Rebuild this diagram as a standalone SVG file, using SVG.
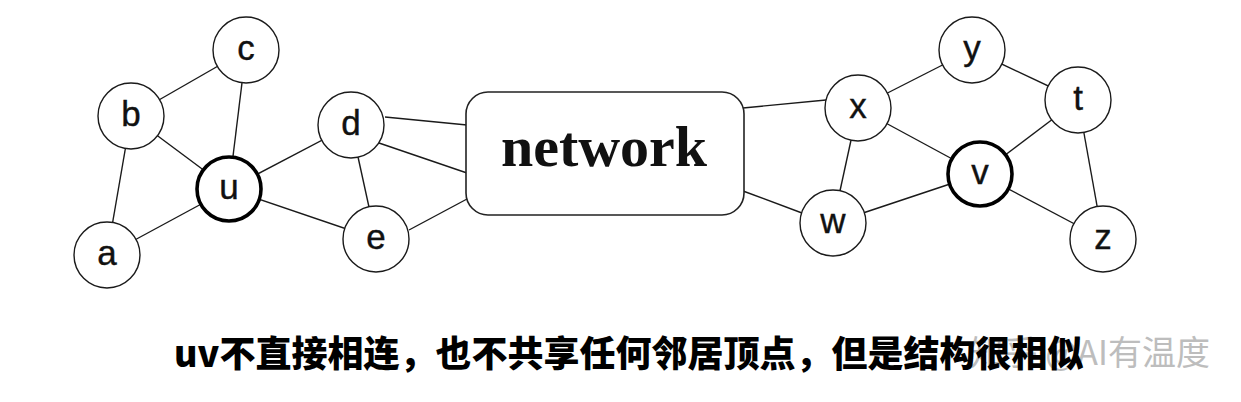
<svg xmlns="http://www.w3.org/2000/svg" width="1241" height="402" viewBox="0 0 1241 402">
<style>
.edge{stroke:#1a1a1a;stroke-width:1.4;fill:none}
.node circle{fill:#fff;stroke:#1a1a1a;stroke-width:1.4}
.node.hl circle{stroke:#000;stroke-width:3.6}
.lbl{font-family:"Liberation Sans",Arial,sans-serif;font-size:35px;fill:#111;text-anchor:middle;stroke:#111;stroke-width:0.4}
.net rect{fill:#fff;stroke:#222;stroke-width:1.6}
.net text{font-family:"Liberation Serif","Times New Roman",serif;font-size:58px;font-weight:bold;fill:#111;text-anchor:middle}
.cap{font-family:"Noto Sans CJK SC","Liberation Sans",sans-serif;font-size:36px;font-weight:900;fill:#000}
.wm{font-family:"Noto Sans CJK SC","Liberation Sans",sans-serif;font-size:34px;fill:#bdbdbd;text-anchor:end}
</style>
<rect width="1241" height="402" fill="#fff"/>
<g id="connectors">
<line class="edge" x1="131" y1="116" x2="246" y2="50"/>
<line class="edge" x1="131" y1="116" x2="229" y2="189"/>
<line class="edge" x1="131" y1="116" x2="107" y2="255"/>
<line class="edge" x1="246" y1="50" x2="229" y2="189"/>
<line class="edge" x1="107" y1="255" x2="229" y2="189"/>
<line class="edge" x1="229" y1="189" x2="351" y2="125"/>
<line class="edge" x1="229" y1="189" x2="376" y2="239"/>
<line class="edge" x1="351" y1="125" x2="376" y2="239"/>
<line class="edge" x1="385" y1="117" x2="467" y2="125"/>
<line class="edge" x1="379" y1="143" x2="467" y2="173"/>
<line class="edge" x1="409" y1="230" x2="467" y2="199"/>
<line class="edge" x1="743" y1="108" x2="826" y2="100"/>
<line class="edge" x1="743" y1="191" x2="802" y2="213"/>
<line class="edge" x1="858" y1="108" x2="972" y2="50"/>
<line class="edge" x1="972" y1="50" x2="1078" y2="100"/>
<line class="edge" x1="858" y1="108" x2="980" y2="174"/>
<line class="edge" x1="858" y1="108" x2="833" y2="223"/>
<line class="edge" x1="833" y1="223" x2="980" y2="174"/>
<line class="edge" x1="1078" y1="100" x2="980" y2="174"/>
<line class="edge" x1="1078" y1="100" x2="1103" y2="239"/>
<line class="edge" x1="980" y1="174" x2="1103" y2="239"/>
</g>
<g id="node-network" class="net"><rect x="466" y="92" width="278" height="123" rx="22"/><text x="604" y="166">network</text></g>
<g id="node-a" class="node"><circle cx="107" cy="255" r="33"/><text class="lbl" x="107" y="265">a</text></g>
<g id="node-b" class="node"><circle cx="131" cy="116" r="33"/><text class="lbl" x="131" y="126">b</text></g>
<g id="node-c" class="node"><circle cx="246" cy="50" r="33"/><text class="lbl" x="246" y="60">c</text></g>
<g id="node-u" class="node hl"><circle cx="229" cy="189" r="32"/><text class="lbl" x="229" y="199">u</text></g>
<g id="node-d" class="node"><circle cx="351" cy="125" r="33"/><text class="lbl" x="351" y="135">d</text></g>
<g id="node-e" class="node"><circle cx="376" cy="239" r="33"/><text class="lbl" x="376" y="249">e</text></g>
<g id="node-x" class="node"><circle cx="858" cy="108" r="33"/><text class="lbl" x="858" y="118">x</text></g>
<g id="node-y" class="node"><circle cx="972" cy="50" r="33"/><text class="lbl" x="972" y="60">y</text></g>
<g id="node-t" class="node"><circle cx="1078" cy="100" r="33"/><text class="lbl" x="1078" y="110">t</text></g>
<g id="node-v" class="node hl"><circle cx="980" cy="174" r="32"/><text class="lbl" x="980" y="184">v</text></g>
<g id="node-w" class="node"><circle cx="833" cy="223" r="33"/><text class="lbl" x="833" y="233">w</text></g>
<g id="node-z" class="node"><circle cx="1103" cy="239" r="33"/><text class="lbl" x="1103" y="249">z</text></g>
<text class="wm" x="1210" y="365">知乎 @AI有温度</text>
<text class="cap" x="174" y="367">uv不直接相连，也不共享任何邻居顶点，但是结构很相似</text>
</svg>
